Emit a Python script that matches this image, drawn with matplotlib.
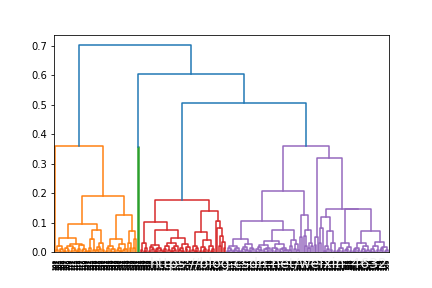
"""层次聚类树状图 (手工还原的合并树)"""
import re
import matplotlib
matplotlib.use("Agg")
import matplotlib.pyplot as plt

# ---- 合并树数据: x = 样本, "(a b)h" = 两个子簇在高度 h 合并 ----
# 橙色簇
A = "((x x)0.006 ((x x)0.004 x)0.011)0.02"
B = ("((((x x)0.005 (x x)0.008)0.014 ((x x)0.003 (x x)0.007)0.012)0.019 "
     "(((x x)0.004 x)0.01 ((x x)0.006 (x x)0.005)0.009)0.023)0.027")
O5 = ("((((x x)0.004 x)0.012 (x x)0.008)0.045 "
      "(((x x)0.006 (x x)0.01)0.018 (x x)0.007)0.03)0.075")
O3L = ("((((x x)0.005 x)0.012 ((x x)0.004 (x x)0.003)0.009)0.02 "
       "(((x x)0.006 (x x)0.003)0.015 ((x x)0.008 x)0.011)0.028)0.045")
O3R = "((x (x x)0.012)0.03 ((x x)0.015 x)0.045)0.072"
orange = f"(x ((({A} {B})0.048 {O5})0.095 ({O3L} {O3R})0.125)0.19)0.36"

# 绿色簇
green = "(x x)0.355"

# 红色簇
R1L = "((x x)0.008 ((x x)0.005 x)0.014)0.03"
R1bL = "(((x x)0.005 (x x)0.009)0.016 (((x x)0.004 x)0.01 (x x)0.006)0.013)0.025"
R1bRL = "((((x x)0.005 x)0.011 (x x)0.007)0.019 (((x x)0.004 (x x)0.008)0.012 x)0.022)0.03"
R1bRR = "(((x x)0.006 (x x)0.004)0.013 ((x x)0.009 (x x)0.005)0.017)0.026"
R2LL = "((x x)0.006 ((x x)0.004 x)0.012)0.022"
R2LR = "(((x x)0.005 ((x x)0.003 x)0.01)0.018 ((x x)0.007 ((x x)0.004 x)0.011)0.02)0.041"
R2R = "(x (x ((x x)0.02 (x (x x)0.015)0.035)0.054)0.08)0.105"
red = (f"(({R1L} ({R1bL} ({R1bRL} {R1bRR})0.048)0.075)0.102 "
       f"(({R2LL} {R2LR})0.068 {R2R})0.14)0.177")

# 紫色簇
P1aLL = "(((x x)0.004 (x x)0.007)0.012 (((x x)0.003 x)0.008 (x x)0.005)0.014)0.022"
P1aLR = "((((x x)0.005 x)0.01 (x x)0.006)0.017 ((x x)0.004 (x x)0.009)0.013)0.026"
L10 = "((((x x)0.004 x)0.01 (x x)0.006)0.016 (((x x)0.005 (x x)0.003)0.009 x)0.012)0.024"
L11 = "(((x x)0.007 ((x x)0.004 x)0.009)0.015 (((x x)0.005 x)0.011 ((x x)0.006 x)0.008)0.013)0.028"
P1aRR = "(((x x)0.008 x)0.02 ((x x)0.01 (x x)0.006)0.028)0.04"
P1b = "((x x)0.05 ((x (x x)0.02)0.055 ((x x)0.012 (x x)0.02)0.03)0.075)0.126"
P2L = "((x x)0.025 x)0.05"
P2RL = "(((x x)0.03 x)0.08 (((x x)0.005 (x x)0.01)0.02 ((x x)0.008 (x x)0.004)0.03)0.07)0.12"
P2RRL = "((((x x)0.004 x)0.008 (x x)0.005)0.014 (((x x)0.006 x)0.01 (x x)0.003)0.018)0.03"
P2RRR = ("(((((x x)0.004 x)0.009 (x x)0.006)0.015 (((x x)0.005 (x x)0.003)0.011 (x x)0.007)0.019)0.03 "
         "((((x x)0.005 (x x)0.003)0.01 (x x)0.007)0.02 (((x x)0.006 x)0.012 ((x x)0.004 x)0.008)0.016)0.035)0.07")
purple = (f"(((({P1aLL} {P1aLR})0.045 (({L10} {L11})0.037 {P1aRR})0.075)0.106 {P1b})0.208 "
          f"({P2L} ({P2RL} ({P2RRL} {P2RRR})0.145)0.147)0.317)0.358")

tree_str = f"({orange} ({green} ({red} {purple})0.505)0.605)0.702"

watermark = "https://blog.csdn.net/weixin_4632"


def parse(s):
    toks = re.findall(r"\(|\)[0-9.]+|x", s)
    pos = [0]

    def node():
        t = toks[pos[0]]
        pos[0] += 1
        if t == "x":
            return None
        left = node()
        right = node()
        h = float(toks[pos[0]][1:])
        pos[0] += 1
        return (h, left, right)
    return node()


tree = parse(tree_str)
max_h = tree[0]
threshold = 0.7 * max_h
palette = ["C1", "C2", "C3", "C4", "C5", "C6", "C7", "C8", "C9"]

links = []          # (xs, ys, color)
leaf_x = []
ci = [0]


def layout(n, color):
    """返回 (x, y)"""
    if n is None:
        x = len(leaf_x) * 10 + 5
        leaf_x.append(x)
        return x, 0.0
    h, l, r = n
    if color is None and h < threshold:
        color = palette[ci[0] % len(palette)]
        ci[0] += 1
    xl, yl = layout(l, color)
    xr, yr = layout(r, color)
    links.append(([xl, xl, xr, xr], [yl, h, h, yr], color if color else "C0"))
    return (xl + xr) / 2, h


layout(tree, None)
n_leaf = len(leaf_x)

fig, ax = plt.subplots(figsize=(6, 4), dpi=72)
plt.subplots_adjust(bottom=0.125)
for xs, ys, c in links:
    ax.plot(xs, ys, color=c, linewidth=1.5)

ax.set_xlim(0, n_leaf * 10)
ax.set_ylim(0, max_h * 1.05)
ax.set_xticks(leaf_x)
ax.set_xticklabels([str(100 + i) for i in range(n_leaf)], rotation=90,
                   fontsize=5.5, fontweight="bold", color="black")
for t in ax.get_xticklines():
    t.set_visible(False)

fig.text(150 / 432, (288 - 268) / 288, watermark, fontsize=14, color="#f2f2f2",
         va="baseline", zorder=10)

plt.savefig("out.png", dpi=72)
